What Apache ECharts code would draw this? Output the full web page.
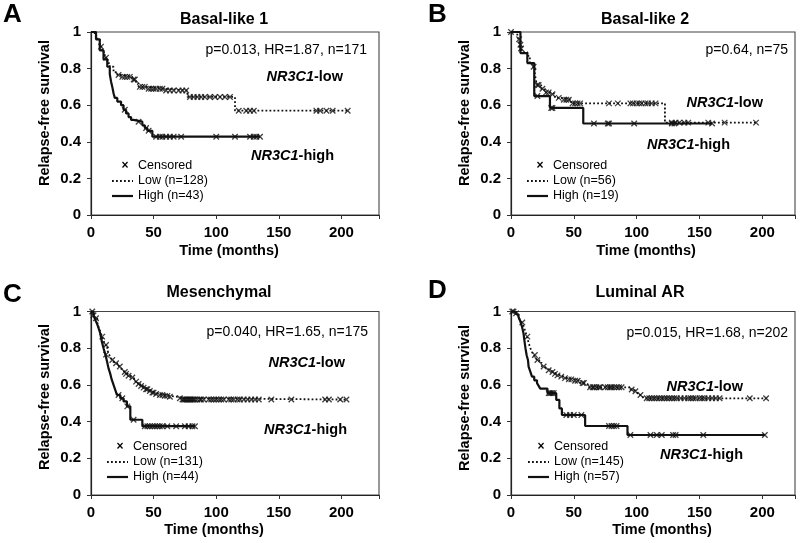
<!DOCTYPE html>
<html><head><meta charset="utf-8">
<script src="https://cdn.jsdelivr.net/npm/echarts@6/dist/echarts.min.js"></script>
<style>html,body{margin:0;padding:0;background:#fff}#c{width:800px;height:543px}</style>
</head><body><div id="c"></div>
<script>
// ---------- text ----------
const panelLetters = ['A', 'B', 'C', 'D'];
const panelTitles = ['Basal-like 1', 'Basal-like 2', 'Mesenchymal', 'Luminal AR'];
const statsTexts = ['p=0.013, HR=1.87, n=171', 'p=0.64, n=75', 'p=0.040, HR=1.65, n=175', 'p=0.015, HR=1.68, n=202'];
const lowLabels = ['Low (n=128)', 'Low (n=56)', 'Low (n=131)', 'Low (n=145)'];
const highLabels = ['High (n=43)', 'High (n=19)', 'High (n=44)', 'High (n=57)'];
const xTicks = [0, 50, 100, 150, 200];
const yTicks = [0, 0.2, 0.4, 0.6, 0.8, 1];
const xAxisName = 'Time (months)';
const yAxisName = 'Relapse-free survival';

// ---------- Kaplan-Meier steps [time, survival] ----------
const lowA = [[0,1],[3,0.98],[5,0.96],[7,0.92],[9,0.89],[11,0.86],[13,0.83],[15,0.81],[18,0.78],[21,0.765],[24,0.755],[33,0.74],[36,0.72],[38,0.70],[45,0.69],[58,0.68],[77,0.645],[115,0.57],[205,0.57]];
const lowA_cens = [8,12,22,25,27,29,31,34,35,39,41,43,46,48,50,52,55,57,60,63,66,70,73,76,79,82,85,88,91,95,99,103,107,111,118,124,127,130,180,183,188,193,205];
const highA = [[0,1],[4,0.96],[7,0.9],[10,0.85],[13,0.81],[15,0.77],[16,0.73],[17,0.70],[18,0.665],[19,0.64],[21,0.62],[24,0.60],[26,0.575],[28,0.555],[30,0.535],[32,0.52],[34,0.51],[41,0.49],[43,0.475],[45,0.46],[49,0.428],[135,0.428]];
const highA_cens = [27,38,44,46,52,55,57,60,63,66,72,100,115,127,130,132,135];

const lowB = [[0,1],[5,0.98],[6,0.96],[7,0.93],[8,0.91],[9,0.89],[13,0.87],[15,0.83],[17,0.81],[19,0.77],[20,0.73],[21,0.71],[24,0.69],[27,0.67],[32,0.66],[35,0.64],[40,0.63],[48,0.61],[122.5,0.505],[195,0.505]];
const lowB_cens = [0,6.5,7.5,8,18,21,22,25,28,30,33,38,42,44,46,49,51,53,55,78,85,95,97,100,102,104,107,109,112,115,128,131,134,138,141,157,170,195];
const highB = [[0,1],[7.5,0.885],[13,0.83],[18.5,0.65],[31,0.585],[57.5,0.50],[160,0.50]];
const highB_cens = [21,32,33,66,77,78,98,128,130,160];

const lowC = [[0,1],[2,0.98],[3,0.963],[5,0.94],[6,0.917],[7.5,0.89],[8.8,0.863],[10,0.84],[11.4,0.817],[13,0.79],[14,0.772],[15.5,0.75],[16.8,0.736],[18,0.725],[19.4,0.718],[21,0.705],[22,0.70],[23.5,0.69],[24.7,0.68],[26,0.67],[27.4,0.66],[29.5,0.65],[31.4,0.64],[33.5,0.63],[35.4,0.618],[37.5,0.605],[39.4,0.594],[41.5,0.585],[43.4,0.576],[46,0.567],[48.7,0.558],[51,0.55],[54,0.545],[59,0.54],[63,0.535],[70,0.527],[72.6,0.52],[205,0.52]];
const lowC_cens = [1,4,9,12,17,20,23,27,28,30,33,36,38,40,42,44,45,47,49,50,52,55,57,59,61,63,71,73,74,75,76,77,78,79,80,81,82,83,85,87,88,90,94,96,98,100,102,104,106,110,112,114,117,119,122,125,128,131,134,144,160,187,190,199,204];
const highC = [[0,1],[2,0.98],[3.5,0.953],[5,0.93],[6,0.91],[7.4,0.88],[8.5,0.84],[10,0.80],[11.5,0.765],[12.8,0.727],[14,0.69],[15.4,0.66],[16.5,0.63],[18,0.60],[19.5,0.57],[20.7,0.545],[23.4,0.527],[26,0.51],[28.7,0.483],[31.4,0.41],[41,0.375],[83,0.375]];
const highC_cens = [2,12,22,25,29,34,43,45,47,49,51,53,55,57,61,68,75,78,81,83];

const lowD = [[0,1],[3,0.99],[4.8,0.98],[6,0.965],[7.4,0.954],[8.5,0.94],[10,0.918],[11.5,0.89],[12.7,0.863],[14,0.83],[15.4,0.80],[16.7,0.78],[18,0.763],[19.5,0.75],[20.7,0.736],[22.5,0.72],[24.6,0.70],[26.5,0.69],[28.6,0.68],[31,0.67],[34,0.66],[36.5,0.652],[39.2,0.645],[42,0.637],[44.5,0.63],[50,0.623],[55,0.61],[59,0.60],[62,0.587],[95,0.575],[97.5,0.565],[100,0.555],[101.5,0.545],[104,0.535],[105.5,0.527],[203.5,0.527]];
const lowD_cens = [1,4,9,13,19,21,26,30,33,35,37,40,43,46,48,51,53,57,58,63,65,66,68,70,71,75,77,79,80,82,84,86,88,96,99,103,108,110,112,114,116,118,120,122,124,126,128,130,132,135,138,141,143,145,147,150,152,154,157,160,163,166,190,203];
const highD = [[0,1],[4,0.985],[6,0.97],[7.5,0.945],[8.7,0.918],[10,0.88],[10.6,0.845],[11.5,0.80],[12.5,0.76],[13.5,0.736],[14,0.70],[15.5,0.67],[16.7,0.645],[18.5,0.625],[20.7,0.61],[22,0.595],[23.3,0.58],[29,0.555],[36,0.518],[38.5,0.472],[40.5,0.436],[59,0.376],[92.7,0.327],[202,0.327]];
const highD_cens = [2,30,31,32,33,34,44,47,50,56,78,80,82,84,95,111,116,120,129,131,153,202];

const lowSteps = [lowA, lowB, lowC, lowD];
const lowCens = [lowA_cens, lowB_cens, lowC_cens, lowD_cens];
const highSteps = [highA, highB, highC, highD];
const highCens = [highA_cens, highB_cens, highC_cens, highD_cens];

// ---------- layout ----------
const FONT = "'Liberation Sans', Arial, sans-serif";
const grids = [
  {left: 91, top: 32, width: 288, height: 183},
  {left: 511, top: 32, width: 284, height: 183},
  {left: 91, top: 311.5, width: 288, height: 183.5},
  {left: 511, top: 311.5, width: 284, height: 183.5}
];
const xMax = [230, 226, 230, 226];
const letterPos = [[3, 15], [428, 15], [3, 295], [428, 291]];
const titlePos = [[224, 20], [645, 20], [219, 293], [640, 293]];
const statsPos = [[367, 50], [788, 50], [368, 332], [788, 333]];
const lowLabPos = [[343, 77], [763, 103], [345, 363], [743, 387]];
const highLabPos = [[334, 156], [730, 145], [347, 430], [743, 455]];
const legendPos = [[112, 166], [527, 166], [107, 447], [528, 447]];
const xNamePos = [[229, 251], [646, 251], [214, 530], [662, 530]];
const yNamePos = [[45, 113], [465, 113], [45, 397], [465, 398]];

function survAt(steps, t) {
  let s = steps[0][1];
  for (const [tt, v] of steps) { if (tt <= t) s = v; else break; }
  return s;
}

const X_SYMBOL = 'path://M0 0L10 10M10 0L0 10';
const DOT = [1.8, 2.2];
const series = [];
const graphic = [];
const xAxes = [], yAxes = [];
for (let p = 0; p < 4; p++) {
  xAxes.push({
    gridIndex: p, type: 'value', min: 0, max: xMax[p], interval: 50,
    axisLine: {show: true, lineStyle: {color: '#222', width: 1.2}},
    axisTick: {show: true, length: 4, lineStyle: {color: '#333'}},
    splitLine: {show: false},
    axisLabel: {margin: 10, color: '#000', fontFamily: FONT, fontWeight: 'bold', fontSize: 15,
      formatter: v => xTicks.includes(v) ? String(v) : ''}
  });
  yAxes.push({
    gridIndex: p, type: 'value', min: 0, max: 1, interval: 0.2,
    axisLine: {show: true, lineStyle: {color: '#222', width: 1.2}},
    axisTick: {show: true, length: 4, lineStyle: {color: '#333'}},
    splitLine: {show: false},
    axisLabel: {margin: 10, color: '#000', fontFamily: FONT, fontWeight: 'bold', fontSize: 15,
      formatter: v => yTicks.some(t => Math.abs(t - v) < 1e-9) ? String(+v.toFixed(1)) : ''}
  });
  series.push({
    name: lowLabels[p], type: 'line', step: 'end', xAxisIndex: p, yAxisIndex: p,
    data: lowSteps[p], showSymbol: false, symbol: 'none',
    lineStyle: {color: '#111', width: 1.8, type: DOT}, z: 2
  });
  series.push({
    name: highLabels[p], type: 'line', step: 'end', xAxisIndex: p, yAxisIndex: p,
    data: highSteps[p], showSymbol: false, symbol: 'none',
    lineStyle: {color: '#111', width: 2.2}, z: 3
  });
  series.push({
    name: 'Censored', type: 'scatter', xAxisIndex: p, yAxisIndex: p,
    data: lowCens[p].map(t => [t, survAt(lowSteps[p], t)]),
    symbol: X_SYMBOL, symbolSize: 5.5,
    itemStyle: {color: 'none', borderColor: '#111', borderWidth: 1.3}, z: 4
  });
  series.push({
    name: 'Censored', type: 'scatter', xAxisIndex: p, yAxisIndex: p,
    data: highCens[p].map(t => [t, survAt(highSteps[p], t)]),
    symbol: X_SYMBOL, symbolSize: 5.5,
    itemStyle: {color: 'none', borderColor: '#111', borderWidth: 1.3}, z: 4
  });

  const txt = (x, y, text, font, align, extra) => graphic.push({
    type: 'text', x: x, y: y,
    style: Object.assign({text: text, font: font, fill: '#000', align: align, verticalAlign: 'middle',
      textAlign: align, textVerticalAlign: 'middle'}, extra || {})
  });
  txt(letterPos[p][0], letterPos[p][1], panelLetters[p], 'bold 26px ' + FONT, 'left');
  txt(titlePos[p][0], titlePos[p][1], panelTitles[p], 'bold 16px ' + FONT, 'center');
  txt(statsPos[p][0], statsPos[p][1], statsTexts[p], '14px ' + FONT, 'right');
  const rich = {i: {fontStyle: 'italic', fontWeight: 'bold', fontSize: 14.5, fontFamily: FONT},
                b: {fontWeight: 'bold', fontSize: 14.5, fontFamily: FONT}};
  txt(lowLabPos[p][0], lowLabPos[p][1], '{i|NR3C1}{b|-low}', 'bold 14.5px ' + FONT, 'right', {rich: rich});
  txt(highLabPos[p][0], highLabPos[p][1], '{i|NR3C1}{b|-high}', 'bold 14.5px ' + FONT, 'right', {rich: rich});
  txt(xNamePos[p][0], xNamePos[p][1], xAxisName, 'bold 14.5px ' + FONT, 'center');
  graphic.push({type: 'text', x: yNamePos[p][0], y: yNamePos[p][1], rotation: Math.PI / 2,
    style: {text: yAxisName, font: 'bold 14.5px ' + FONT, fill: '#000', align: 'center', verticalAlign: 'middle',
      textAlign: 'center', textVerticalAlign: 'middle'}});
  // legend
  const lx = legendPos[p][0], ly = legendPos[p][1];
  txt(lx + 13, ly, '×', 'bold 12px ' + FONT, 'center');
  txt(lx + 26, ly, 'Censored', '12.5px ' + FONT, 'left');
  graphic.push({type: 'line', shape: {x1: lx, y1: ly + 15, x2: lx + 21, y2: ly + 15},
    style: {stroke: '#111', lineWidth: 1.8, lineDash: DOT}});
  txt(lx + 26, ly + 15, lowLabels[p], '12.5px ' + FONT, 'left');
  graphic.push({type: 'line', shape: {x1: lx, y1: ly + 30, x2: lx + 21, y2: ly + 30},
    style: {stroke: '#111', lineWidth: 2.2}});
  txt(lx + 26, ly + 30, highLabels[p], '12.5px ' + FONT, 'left');
}

const chart = echarts.init(document.getElementById('c'), null, {renderer: 'canvas'});
chart.setOption({
  animation: false,
  backgroundColor: '#fff',
  grid: grids.map(g => Object.assign({show: true, borderColor: '#444', borderWidth: 1.1, backgroundColor: 'transparent', containLabel: false}, g)),
  xAxis: xAxes,
  yAxis: yAxes,
  series: series,
  graphic: {elements: graphic}
});
</script></body></html>
